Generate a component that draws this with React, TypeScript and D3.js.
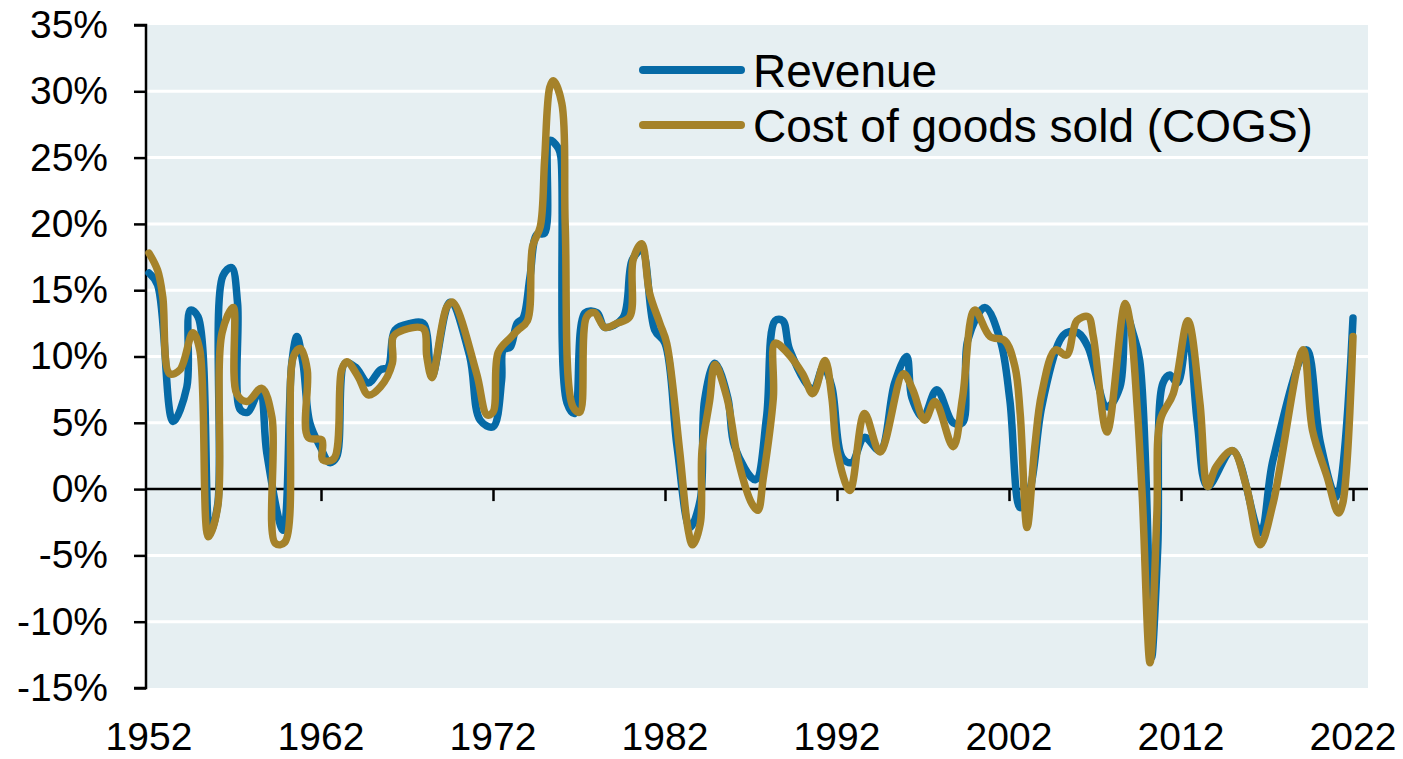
import { useEffect, useRef } from 'react';
import * as d3 from 'd3';

// Revenue growth (yoy, %)
const revenueYears = [
  1952.0, 1952.5, 1953.4, 1954.2, 1954.4, 1954.85, 1955.55, 1956.0, 1956.3, 1956.8,
  1957.15, 1957.3, 1957.75, 1958.45, 1958.85, 1959.8, 1960.3, 1960.6, 1960.95, 1961.35,
  1961.95, 1962.5, 1962.9, 1963.4, 1964.0, 1964.75, 1965.45, 1965.9, 1966.3, 1967.2,
  1967.95, 1968.45, 1969.5, 1970.65, 1971.25, 1972.0, 1972.5, 1972.6, 1973.0, 1973.4,
  1973.75, 1974.15, 1974.55, 1975.0, 1975.3, 1975.8, 1975.95, 1976.3, 1976.75, 1977.35,
  1978.05, 1978.5, 1979.55, 1980.1, 1980.65, 1981.4, 1982.0, 1982.7, 1983.45, 1984.05,
  1984.3, 1984.9, 1985.65, 1986.05, 1987.25, 1987.9, 1988.4, 1988.85, 1989.25, 1990.6,
  1991.2, 1991.7, 1992.3, 1992.85, 1993.6, 1994.5, 1995.35, 1996.05, 1996.35, 1997.0,
  1997.8, 1998.75, 1999.3, 1999.6, 2000.6, 2001.5, 2002.05, 2002.65, 2003.2, 2003.9,
  2004.95, 2005.35, 2006.0, 2006.6, 2007.7, 2008.45, 2008.8, 2009.2, 2009.6, 2010.2,
  2010.3, 2010.65, 2010.95, 2011.35, 2011.8, 2012.4, 2012.95, 2013.55, 2015.0, 2016.6,
  2017.35, 2019.3, 2020.1, 2021.05, 2022.0,
];
const revenueValues = [
  16.3, 15.4, 5.1, 7.7, 13.5, 13.0, -3.3, -1.1, 16.1, 16.7,
  14.0, 6.0, 5.8, 7.5, 2.7, -3.1, 9.5, 11.5, 9.5, 5.0,
  3.2, 2.0, 2.4, 9.5, 9.2, 8.0, 9.0, 9.2, 12.0, 12.5,
  12.5, 8.5, 14.1, 10.0, 5.2, 4.7, 8.2, 10.5, 10.7, 12.5,
  12.9, 16.0, 19.2, 19.3, 26.3, 25.7, 25.0, 6.5, 5.7, 13.3,
  13.3, 12.2, 12.9, 17.3, 18.0, 12.0, 11.0, 3.2, -2.9, -0.8,
  6.7, 9.5, 6.9, 3.2, 0.7, 5.4, 12.7, 12.7, 10.5, 7.5,
  9.2, 7.7, 2.4, 2.0, 3.9, 2.9, 8.0, 10.0, 6.9, 5.4,
  7.5, 5.0, 5.0, 11.2, 13.7, 11.2, 6.7, -1.4, -0.1, 6.2,
  11.2, 11.8, 11.8, 10.7, 6.2, 7.7, 13.3, 11.8, 9.7, -9.4,
  -12.7, -4.4, 8.0, 8.6, 8.0, 12.0, 5.0, 0.2, 2.9, -3.3,
  2.2, 10.5, 3.5, -0.6, 12.9,
];

// Cost of goods sold growth (yoy, %)
const cogsYears = [
  1952.0, 1952.5, 1952.8, 1953.2, 1953.8, 1954.55, 1954.95, 1955.45, 1956.0, 1956.25,
  1956.9, 1957.1, 1957.7, 1958.55, 1959.15, 1959.35, 1959.9, 1960.4, 1960.8, 1961.2,
  1961.25, 1962.05, 1962.1, 1962.75, 1963.2, 1963.5, 1964.15, 1964.75, 1965.45, 1966.15,
  1966.2, 1966.8, 1967.95, 1968.15, 1968.45, 1969.3, 1969.65, 1971.05, 1971.65, 1972.0,
  1972.3, 1973.0, 1973.45, 1974.0, 1974.3, 1974.75, 1975.0, 1975.3, 1975.5, 1976.0,
  1976.2, 1976.65, 1977.05, 1977.45, 1977.9, 1978.5, 1979.2, 1979.95, 1980.15, 1980.65,
  1981.1, 1981.7, 1982.1, 1982.85, 1983.35, 1983.6, 1984.05, 1984.15, 1984.6, 1984.9,
  1985.6, 1986.25, 1987.05, 1987.4, 1987.7, 1988.3, 1988.4, 1989.1, 1990.0, 1990.6,
  1991.3, 1991.7, 1992.0, 1992.75, 1993.6, 1994.5, 1995.85, 1996.4, 1997.1, 1997.7,
  1998.75, 1999.3, 2000.0, 2000.9, 2001.75, 2002.35, 2002.65, 2003.05, 2003.5, 2003.9,
  2004.7, 2005.35, 2005.95, 2006.6, 2006.9, 2007.7, 2008.75, 2009.05, 2009.45, 2009.75,
  2010.2, 2010.6, 2010.8, 2011.55, 2012.4, 2013.1, 2013.55, 2014.05, 2015.0, 2015.8,
  2016.6, 2017.35, 2019.1, 2019.65, 2020.5, 2021.15, 2021.4, 2022.0,
];
const cogsValues = [
  17.8, 16.5, 14.5, 8.7, 9.0, 11.8, 10.5, -3.6, -1.3, 11.8,
  13.7, 7.2, 6.6, 7.6, 5.4, -4.1, -4.0, 10.0, 10.6, 9.0,
  3.9, 3.7, 2.2, 2.3, 9.0, 9.6, 8.5, 7.1, 7.7, 9.5,
  11.5, 12.0, 12.1, 10.0, 8.4, 13.7, 14.1, 8.7, 5.6, 5.8,
  10.3, 11.4, 12.0, 12.7, 18.3, 19.8, 24.8, 30.3, 30.8, 29.1,
  19.8, 6.2, 5.8, 13.0, 13.3, 12.2, 12.5, 13.0, 17.3, 18.5,
  14.8, 12.5, 11.0, 2.9, -3.1, -4.2, -2.6, 2.9, 6.7, 9.4,
  6.9, 2.2, -1.1, -1.6, 0.7, 6.9, 11.0, 10.3, 8.7, 7.2,
  9.7, 6.9, 2.9, -0.1, 5.7, 2.8, 8.7, 7.5, 5.2, 6.6,
  3.2, 6.9, 13.5, 11.5, 11.2, 9.2, 5.7, -2.9, 3.2, 7.2,
  10.5, 10.1, 12.7, 13.0, 11.5, 4.3, 14.0, 12.5, 6.2, -0.6,
  -13.1, -1.8, 5.2, 7.2, 12.7, 6.5, 0.2, 1.7, 2.9, 0.2,
  -4.2, -1.1, 10.5, 4.4, 0.9, -1.8, -1.1, 11.5,
];

const yTicks = [-15, -10, -5, 0, 5, 10, 15, 20, 25, 30, 35];
const xTicks = [1952, 1962, 1972, 1982, 1992, 2002, 2012, 2022];

const seriesNames = ['Revenue', 'Cost of goods sold (COGS)'];
const seriesColors = ['#066aa6', '#a5822a'];

const W = 1403;
const H = 759;
const FONT = '"Liberation Sans", Arial, sans-serif';

export default function App() {
  const svgRef = useRef<SVGSVGElement>(null);

  useEffect(() => {
    const svg = d3.select(svgRef.current);
    svg.selectAll('*').remove();

    const plotLeft = 146;
    const plotRight = 1368;
    const plotTop = 25;
    const plotBottom = 688;

    const x = d3.scaleLinear().domain([1952, 2022]).range([149, 1353]);
    const y = d3.scaleLinear().domain([-15, 35]).range([plotBottom, plotTop]);

    // plot background
    svg.append('rect')
      .attr('x', plotLeft)
      .attr('y', plotTop)
      .attr('width', plotRight - plotLeft)
      .attr('height', plotBottom - plotTop)
      .attr('fill', '#e6eff2');

    // white gridlines
    svg.append('g')
      .selectAll('line')
      .data(yTicks.filter(t => t !== 0 && t !== -15 && t !== 35))
      .enter()
      .append('line')
      .attr('x1', plotLeft)
      .attr('x2', plotRight)
      .attr('y1', d => y(d))
      .attr('y2', d => y(d))
      .attr('stroke', '#ffffff')
      .attr('stroke-width', 3);

    // y axis
    const yAxis = svg.append('g')
      .attr('transform', `translate(${plotLeft},0)`)
      .call(d3.axisLeft(y).tickValues(yTicks).tickSize(12).tickPadding(26).tickFormat(d => `${d}%`));
    yAxis.select('.domain').attr('stroke', '#000').attr('stroke-width', 2.5);
    yAxis.selectAll('.tick line').attr('stroke', '#000').attr('stroke-width', 2.5);
    yAxis.selectAll('.tick text')
      .attr('fill', '#000')
      .style('font-family', FONT)
      .style('font-size', '39px');
    yAxis.select('.domain').attr('d', `M-12,${plotTop}H0V${plotBottom}H-12`);

    // zero line with year ticks
    const xAxis = svg.append('g')
      .attr('transform', `translate(0,${y(0)})`)
      .call(d3.axisBottom(x).tickValues(xTicks.slice(1)).tickSize(12).tickFormat(() => ''));
    xAxis.select('.domain').attr('d', `M${plotLeft},0H${plotRight}`).attr('stroke', '#000').attr('stroke-width', 2.5);
    xAxis.selectAll('.tick line').attr('stroke', '#000').attr('stroke-width', 2.5);

    // year labels under the plot
    svg.append('g')
      .selectAll('text')
      .data(xTicks)
      .enter()
      .append('text')
      .attr('x', d => x(d))
      .attr('y', 750)
      .attr('text-anchor', 'middle')
      .style('font-family', FONT)
      .style('font-size', '39px')
      .attr('fill', '#000')
      .text(d => d);

    const line = d3.line<[number, number]>()
      .x(d => x(d[0]))
      .y(d => y(d[1]))
      .curve(d3.curveCatmullRom.alpha(0.5));

    const series: [number, number][][] = [
      revenueYears.map((yr, i) => [yr, revenueValues[i]]),
      cogsYears.map((yr, i) => [yr, cogsValues[i]]),
    ];

    series.forEach((s, i) => {
      svg.append('path')
        .datum(s)
        .attr('d', line)
        .attr('fill', 'none')
        .attr('stroke', seriesColors[i])
        .attr('stroke-width', 7.5)
        .attr('stroke-linejoin', 'round')
        .attr('stroke-linecap', 'round');
    });

    // legend
    const legend = svg.append('g');
    seriesNames.forEach((name, i) => {
      const ly = 70 + i * 55;
      legend.append('line')
        .attr('x1', 643)
        .attr('x2', 741)
        .attr('y1', ly)
        .attr('y2', ly)
        .attr('stroke', seriesColors[i])
        .attr('stroke-width', 8)
        .attr('stroke-linecap', 'round');
      legend.append('text')
        .attr('x', 753)
        .attr('y', ly)
        .attr('dy', '0.36em')
        .style('font-family', FONT)
        .style('font-size', '46px')
        .attr('fill', '#000')
        .text(name);
    });
  }, []);

  return (
    <svg
      ref={svgRef}
      width={W}
      height={H}
      style={{ position: 'absolute', left: 0, top: 0, background: '#fff' }}
    />
  );
}
